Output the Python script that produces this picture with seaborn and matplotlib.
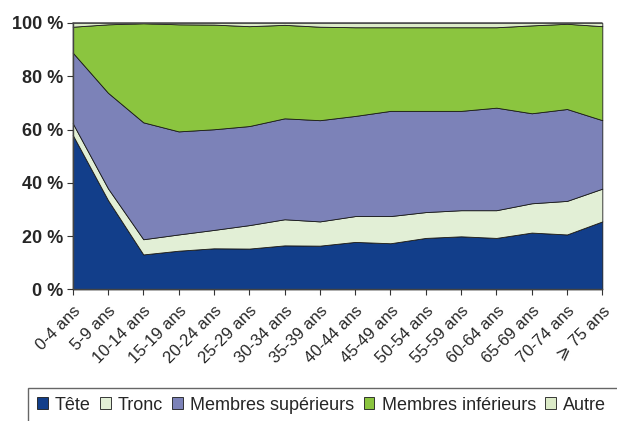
import matplotlib
matplotlib.use("Agg")
import matplotlib.pyplot as plt
from matplotlib.patches import Patch, Rectangle
import seaborn as sns

# Age groups and share of injuries by body part (%)
ages = ["0-4 ans", "5-9 ans", "10-14 ans", "15-19 ans", "20-24 ans", "25-29 ans",
        "30-34 ans", "35-39 ans", "40-44 ans", "45-49 ans", "50-54 ans", "55-59 ans",
        "60-64 ans", "65-69 ans", "70-74 ans", "\u2a7e 75 ans"]
tete = [58.0, 33.5, 13.1, 14.5, 15.4, 15.3, 16.5, 16.4, 17.8, 17.3, 19.3, 19.9, 19.3, 21.3, 20.6, 25.5]
tronc = [4.4, 4.4, 5.7, 6.1, 6.9, 8.8, 9.8, 9.1, 9.7, 10.2, 9.7, 9.8, 10.4, 11.0, 12.6, 12.3]
membres_sup = [26.5, 35.9, 43.9, 38.7, 37.8, 37.2, 37.9, 38.0, 37.6, 39.5, 38.0, 37.3, 38.5, 33.8, 34.5, 25.7]
membres_inf = [9.7, 25.7, 37.2, 40.2, 39.3, 37.5, 35.1, 35.1, 33.3, 31.4, 31.4, 31.4, 30.2, 33.0, 32.0, 35.3]
autre = [1.4, 0.5, 0.1, 0.5, 0.6, 1.2, 0.7, 1.4, 1.6, 1.6, 1.6, 1.6, 1.6, 0.9, 0.3, 1.2]

labels = ["Tête", "Tronc", "Membres supérieurs", "Membres inférieurs", "Autre"]
colors = ["#123e8a", "#e2efd6", "#7c82b8", "#8bc53f", "#dcebc8"]

sns.set_theme(style="white")
plt.rcParams["font.family"] = ["Liberation Sans", "DejaVu Sans"]

fig = plt.figure(figsize=(6.17, 4.21), dpi=100)
ax = fig.add_axes([0.1178, 0.3128, 0.8584, 0.6326])

x = list(range(len(ages)))
polys = ax.stackplot(x, tete, tronc, membres_sup, membres_inf, autre,
                     colors=colors, edgecolor="#1a1a1a", linewidth=0.6)
for p in polys:
    p.set_clip_on(False)

ax.set_xlim(0, len(ages) - 1)
ax.set_ylim(0, 100)
ax.set_yticks([0, 20, 40, 60, 80, 100])
ax.set_yticklabels([f"{v} %" for v in [0, 20, 40, 60, 80, 100]],
                   fontsize=13, fontweight="bold")
ax.set_xticks(x)
ax.set_xticklabels(ages, rotation=45, ha="right", rotation_mode="anchor", fontsize=12)
ax.tick_params(axis="both", which="both", direction="out", length=4, width=0.8,
               color="#333333", left=True, bottom=True, pad=3)
ax.tick_params(axis="x", pad=6)

sns.despine(ax=ax, top=True, right=True)
for side in ["left", "bottom"]:
    ax.spines[side].set_color("#444444")
    ax.spines[side].set_linewidth(1.0)
# dark outline along the top of the plot area
ax.axhline(100, color="#555555", linewidth=1.2, clip_on=False)

# legend box running off the bottom/right of the picture
fig.patches.append(Rectangle((28 / 617, -0.1), 1.0, (421 - 388) / 421 + 0.1,
                             transform=fig.transFigure, facecolor="white",
                             edgecolor="#666666", linewidth=1.0, zorder=0))
handles = [Patch(facecolor=c, edgecolor="#1a1a1a", linewidth=0.6) for c in colors]
fig.legend(handles, labels, loc="center left", bbox_to_anchor=(37 / 617, 1 - 405 / 421),
           ncol=5, frameon=False, fontsize=13, handlelength=0.6, handleheight=0.6,
           handletextpad=0.4, columnspacing=0.5, borderaxespad=0, borderpad=0)

fig.savefig("out.png", dpi=100)
